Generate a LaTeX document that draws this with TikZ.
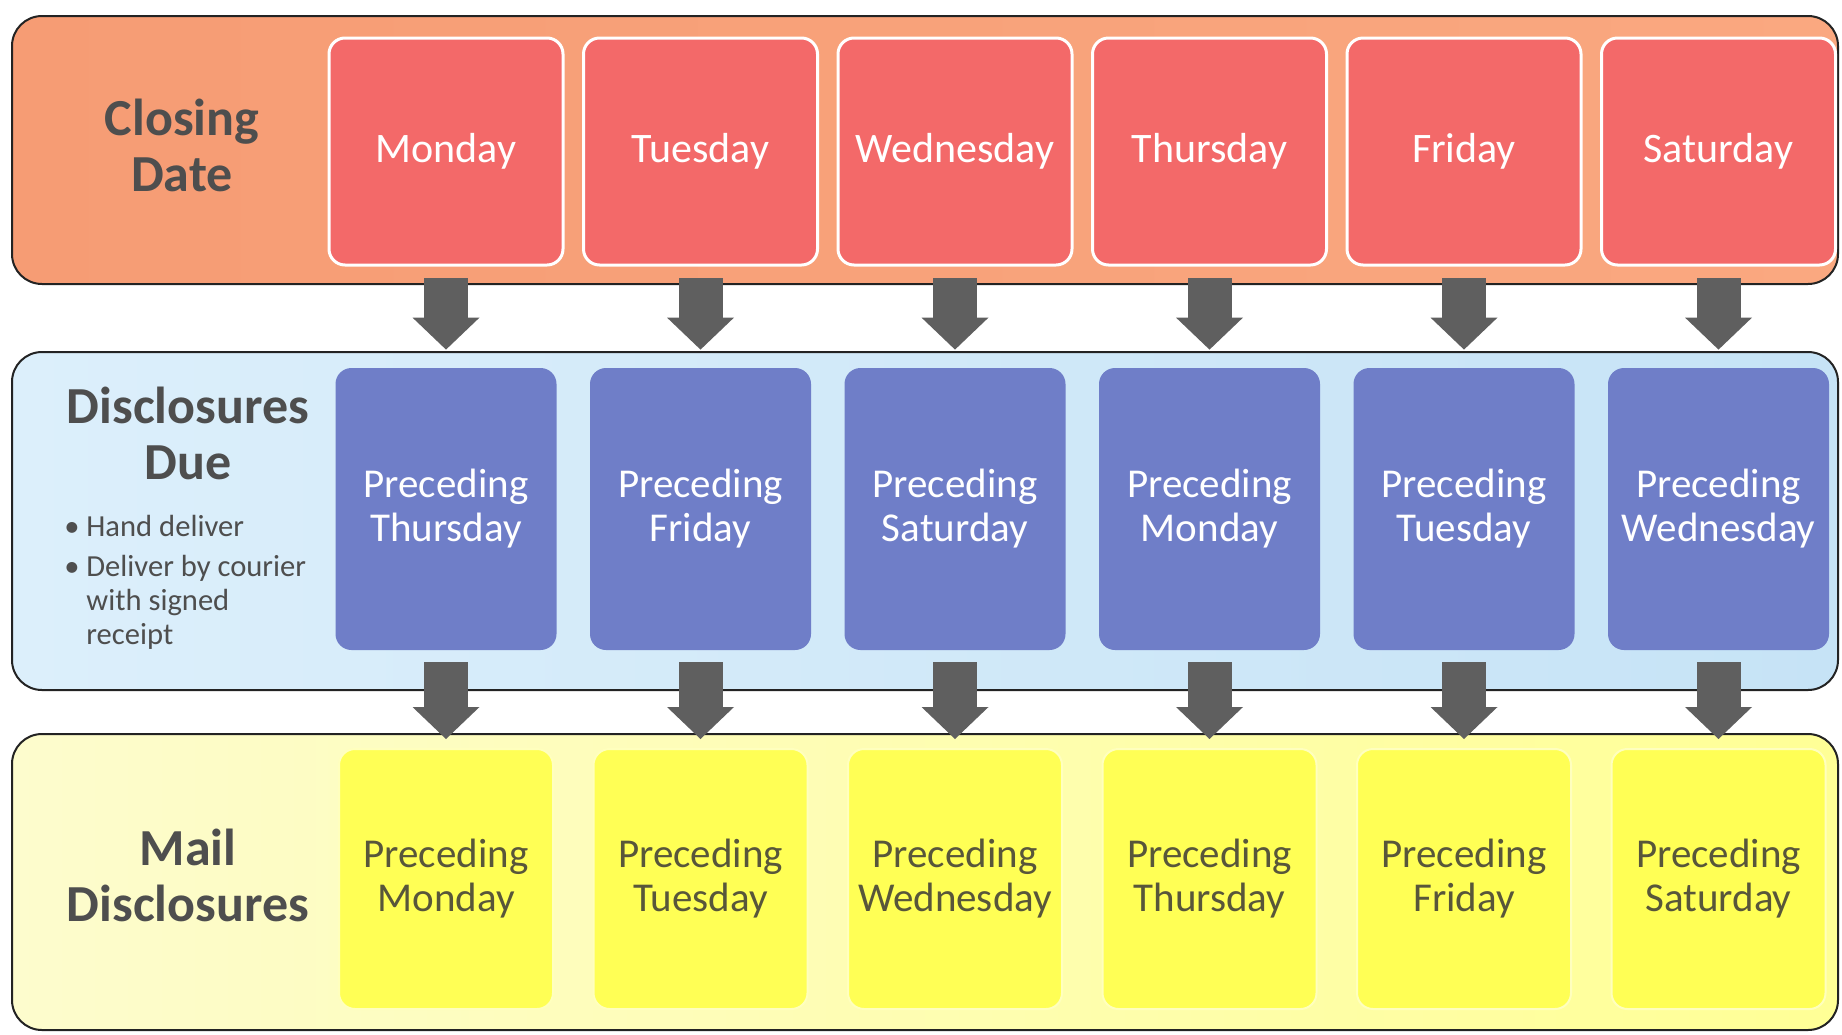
\documentclass[tikz,border=0pt]{standalone}
\usepackage{fontspec}
\setmainfont{Carlito}
\usepackage{tikz}
\usepackage{xcolor}
\usetikzlibrary{arrows.meta,positioning,calc}
\definecolor{bandline}{RGB}{35, 35, 35}
\definecolor{closeleft}{RGB}{246, 156, 116}
\definecolor{closeright}{RGB}{250, 168, 128}
\definecolor{closered}{RGB}{243, 105, 105}
\definecolor{dueleft}{RGB}{220, 239, 251}
\definecolor{dueright}{RGB}{198, 227, 246}
\definecolor{dueblue}{RGB}{111, 126, 200}
\definecolor{mailleft}{RGB}{253, 252, 205}
\definecolor{mailright}{RGB}{255, 255, 150}
\definecolor{mailyellow}{RGB}{255, 255, 85}
\definecolor{mailedge}{RGB}{255, 255, 190}
\definecolor{mailtext}{RGB}{88, 86, 58}
\definecolor{labelgray}{RGB}{78, 78, 78}
\definecolor{arrowgray}{RGB}{95, 95, 95}
\newcommand{\bulletmark}{\makebox[0.72em][l]{\textbullet}}
\tikzstyle{band} = [
    draw=bandline,
    line width=1pt,
    rounded corners=15pt
]
\tikzstyle{rowlabel} = [
    align=center,
    text=labelgray,
    font=\bfseries\fontsize{26}{28}\selectfont
]
\tikzstyle{howto} = [
    align=left,
    inner sep=0pt,
    text=labelgray,
    font=\fontsize{15.3}{17}\selectfont
]
\tikzstyle{closebox} = [
    rectangle,
    rounded corners=8pt,
    minimum width=117pt,
    minimum height=113.5pt,
    text centered,
    draw=white,
    line width=1.5pt,
    fill=closered,
    text=white,
    font=\fontsize{21}{24}\selectfont
]
\tikzstyle{duebox} = [
    rectangle,
    rounded corners=8pt,
    minimum width=110.5pt,
    minimum height=141pt,
    align=center,
    fill=dueblue,
    text=white,
    font=\fontsize{20.5}{22}\selectfont
]
\tikzstyle{mailbox} = [
    rectangle,
    rounded corners=8pt,
    minimum width=107pt,
    minimum height=130pt,
    align=center,
    draw=mailedge,
    line width=1pt,
    fill=mailyellow,
    text=mailtext,
    font=\fontsize{20.5}{22}\selectfont
]
\tikzstyle{arrow} = [
    line width=22pt,
    draw=arrowgray,
    -{Triangle[width=33.5pt,length=16pt,line width=0pt]}
]
\begin{document}
\begin{tikzpicture}[x=0.5pt, y=-0.5pt, node distance=127.25pt, on grid]
    \useasboundingbox (0,0) rectangle (1842,1034);
    % the three bands
    \draw[band, left color=closeleft, right color=closeright] (12,16) rectangle (1838,284);
    \draw[band, left color=dueleft, right color=dueright] (12,352) rectangle (1838,690);
    \draw[band, left color=mailleft, right color=mailright] (12,734) rectangle (1838,1030);
    % row titles
    \node[rowlabel] (closing) at (182,145) {Closing\\Date};
    \node[rowlabel] (due) at (188,433) {Disclosures\\Due};
    \node[howto, anchor=north west] (how) at (64,515) {\bulletmark Hand deliver\\[3pt]
        \bulletmark Deliver by courier\\ \hspace*{0.72em}with signed\\ \hspace*{0.72em}receipt};
    \node[rowlabel] (mail) at (188,875) {Mail\\Disclosures};
    % closing date
    \node[closebox] (c1) at (446,151.5) {Monday};
    \node[closebox, right=of c1] (c2) {Tuesday};
    \node[closebox, right=of c2] (c3) {Wednesday};
    \node[closebox, right=of c3] (c4) {Thursday};
    \node[closebox, right=of c4] (c5) {Friday};
    \node[closebox, right=of c5] (c6) {Saturday};
    % disclosures due
    \node[duebox] (d1) at (446,509) {Preceding\\Thursday};
    \node[duebox, right=of d1] (d2) {Preceding\\Friday};
    \node[duebox, right=of d2] (d3) {Preceding\\Saturday};
    \node[duebox, right=of d3] (d4) {Preceding\\Monday};
    \node[duebox, right=of d4] (d5) {Preceding\\Tuesday};
    \node[duebox, right=of d5] (d6) {Preceding\\Wednesday};
    % mail disclosures
    \node[mailbox] (m1) at (446,879) {Preceding\\Monday};
    \node[mailbox, right=of m1] (m2) {Preceding\\Tuesday};
    \node[mailbox, right=of m2] (m3) {Preceding\\Wednesday};
    \node[mailbox, right=of m3] (m4) {Preceding\\Thursday};
    \node[mailbox, right=of m4] (m5) {Preceding\\Friday};
    \node[mailbox, right=of m5] (m6) {Preceding\\Saturday};
    % arrows
    \draw[arrow] ($(c1.south)+(0,11.5)$) -- ($(d1.north)+(0,-18)$);
    \draw[arrow] ($(c2.south)+(0,11.5)$) -- ($(d2.north)+(0,-18)$);
    \draw[arrow] ($(c3.south)+(0,11.5)$) -- ($(d3.north)+(0,-18)$);
    \draw[arrow] ($(c4.south)+(0,11.5)$) -- ($(d4.north)+(0,-18)$);
    \draw[arrow] ($(c5.south)+(0,11.5)$) -- ($(d5.north)+(0,-18)$);
    \draw[arrow] ($(c6.south)+(0,11.5)$) -- ($(d6.north)+(0,-18)$);
    \draw[arrow] ($(d1.south)+(0,12)$) -- ($(m1.north)+(0,-9)$);
    \draw[arrow] ($(d2.south)+(0,12)$) -- ($(m2.north)+(0,-9)$);
    \draw[arrow] ($(d3.south)+(0,12)$) -- ($(m3.north)+(0,-9)$);
    \draw[arrow] ($(d4.south)+(0,12)$) -- ($(m4.north)+(0,-9)$);
    \draw[arrow] ($(d5.south)+(0,12)$) -- ($(m5.north)+(0,-9)$);
    \draw[arrow] ($(d6.south)+(0,12)$) -- ($(m6.north)+(0,-9)$);
\end{tikzpicture}
\end{document}
